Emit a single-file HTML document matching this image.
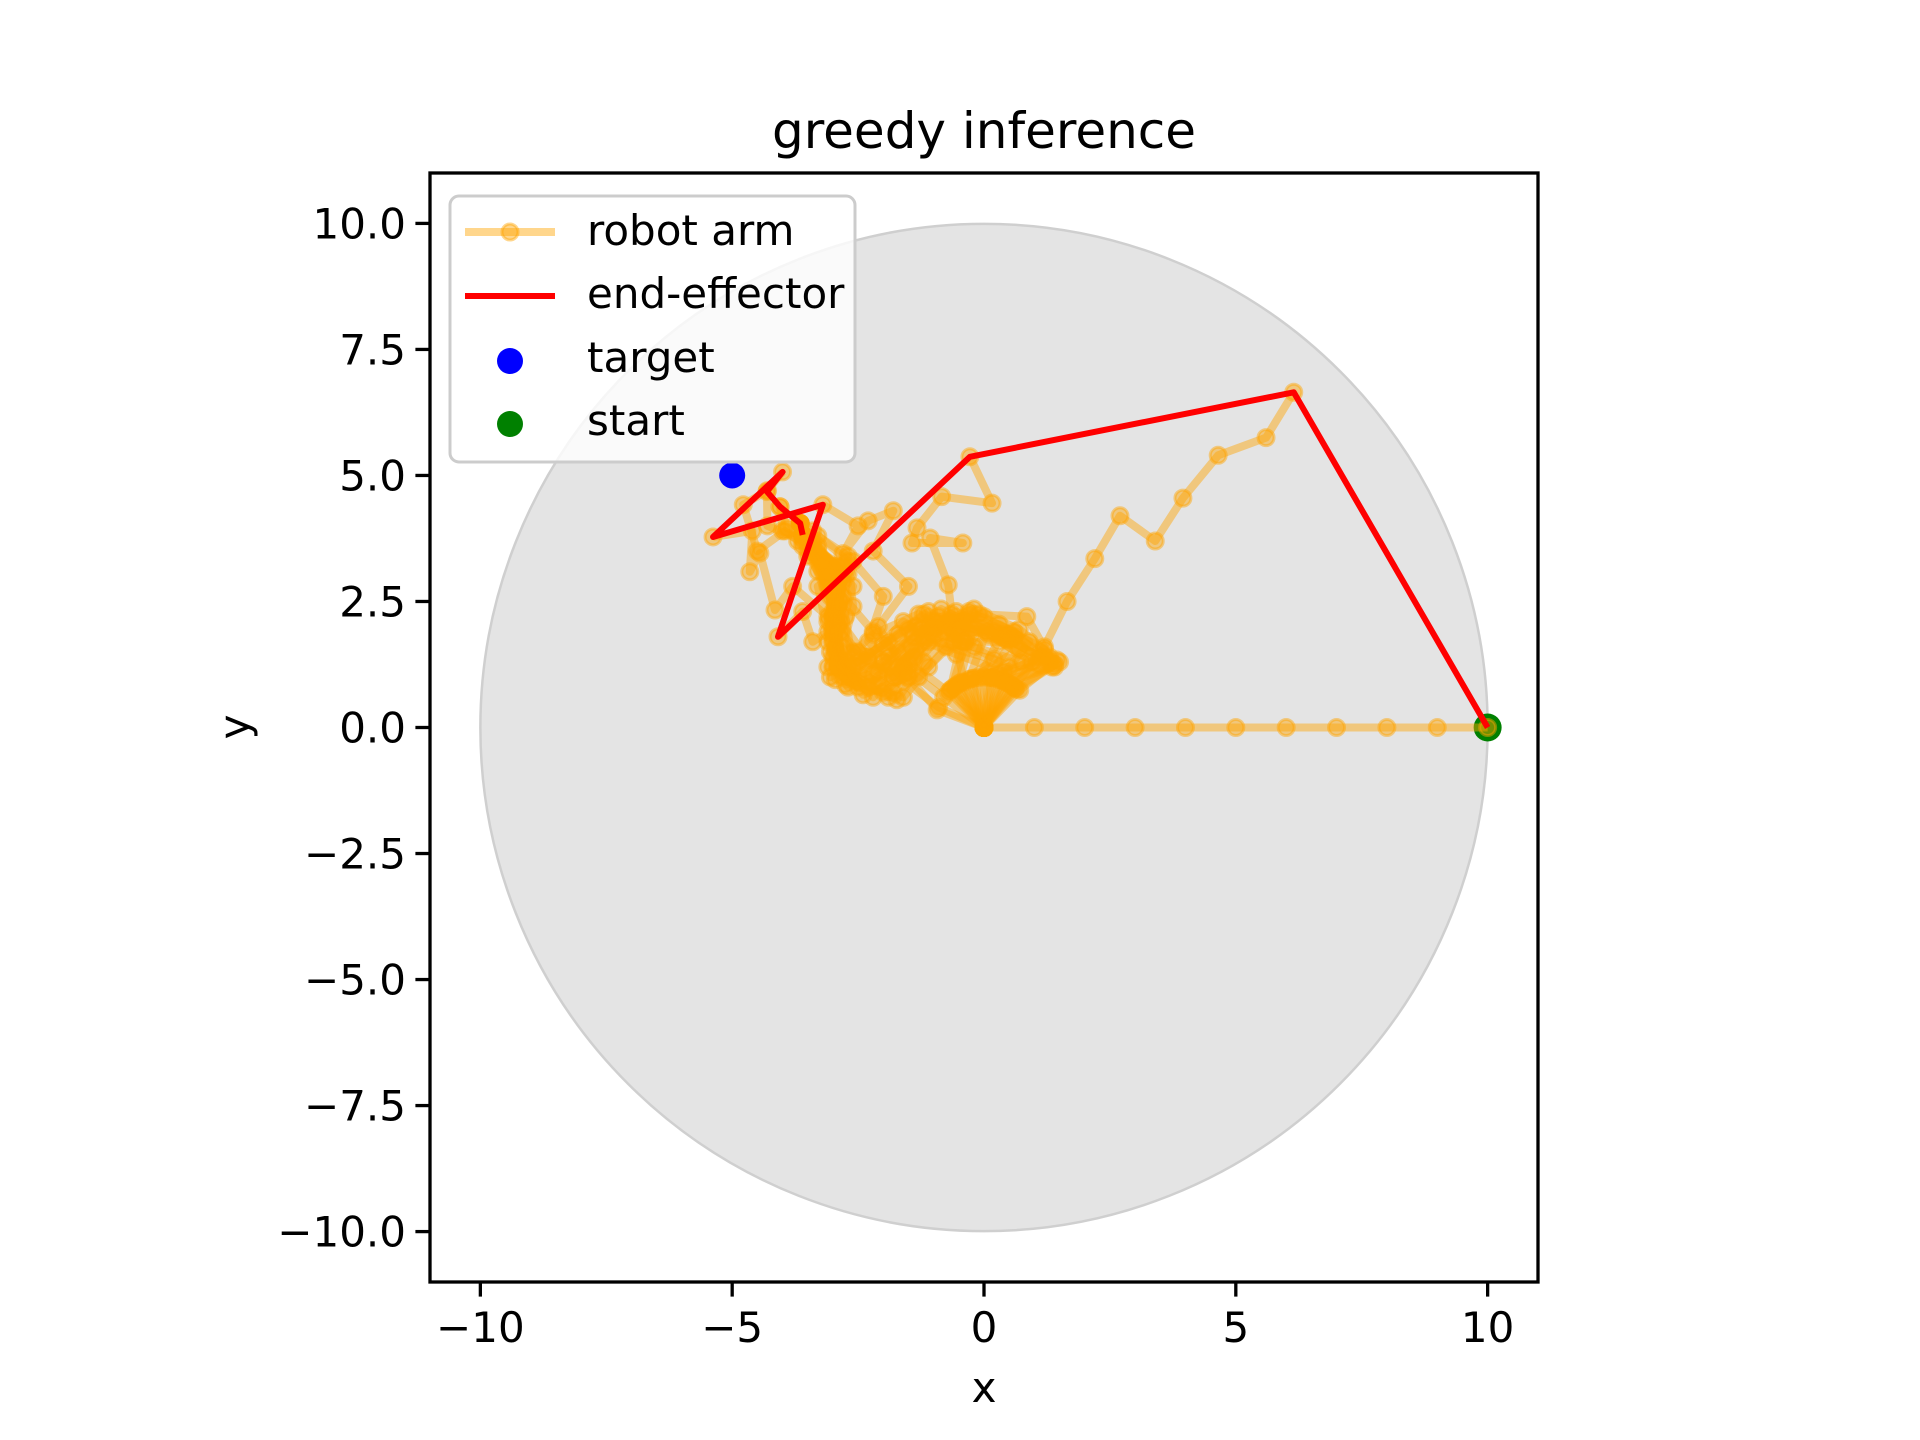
<!DOCTYPE html>
<html><head><meta charset="utf-8"><style>
html,body{margin:0;padding:0;background:#fff;}
svg{display:block;font-family:"DejaVu Sans","Liberation Sans",sans-serif;}
</style></head><body>
<svg id="chart" width="1920" height="1440" viewBox="0 0 1920 1440">
<rect width="1920" height="1440" fill="#fff"/>
<g id="plot"></g>
<text x="984" y="148" text-anchor="middle" font-size="50">greedy inference</text>
<text x="984" y="1402" text-anchor="middle" font-size="42">x</text>
<text x="0" y="0" transform="translate(249,727) rotate(-90)" text-anchor="middle" font-size="42">y</text>
<g id="ticks"></g>
<rect x="430" y="173" width="1108" height="1109" fill="none" stroke="#000" stroke-width="3.3"/>
<g>
<rect x="450" y="196" width="405" height="266" rx="9" fill="#fff" fill-opacity="0.8" stroke="#ccc" stroke-width="3"/>
<g>
<line x1="465" y1="232" x2="555" y2="232" stroke="orange" stroke-opacity="0.45" stroke-width="8"/>
<circle cx="510" cy="232" r="8" fill="orange" fill-opacity="0.45" stroke="orange" stroke-opacity="0.45" stroke-width="3"/>
<text x="587" y="245" font-size="42">robot arm</text></g>
<g>
<line x1="465" y1="296" x2="555" y2="296" stroke="red" stroke-width="6"/>
<text x="587" y="308" font-size="42">end-effector</text></g>
<g>
<circle cx="510" cy="361" r="13" fill="blue"/>
<text x="587" y="372" font-size="42">target</text></g>
<g>
<circle cx="510" cy="424" r="13" fill="green"/>
<text x="587" y="435" font-size="42">start</text></g>
</g>
</svg>
<script>
const xTicks=[-10,-5,0,5,10];
const yTicks=[-10,-7.5,-5,-2.5,0,2.5,5,7.5,10];
const yTickLabels=["\u221210.0","\u22127.5","\u22125.0","\u22122.5","0.0","2.5","5.0","7.5","10.0"];
const xTickLabels=["\u221210","\u22125","0","5","10"];
const workspaceRadius=[10];
const targetPoint=[-5,5];
const startPoint=[10,0];
const efX=[10,6.15,-0.28,-4.09,-3.2,-5.38,-4.0,-4.31,-4.05,-3.65,-3.6];
const efY=[0,6.65,5.37,1.8,4.42,3.78,5.07,4.68,4.38,4.05,3.82];
const armConfigs=[
[[0,0],[1,0],[2,0],[3,0],[4,0],[5,0],[6,0],[7,0],[8,0],[9,0],[10,0]],
[[0,0],[0.6,0.8],[1.2,1.6],[1.65,2.5],[2.2,3.35],[2.7,4.2],[3.4,3.7],[3.95,4.55],[4.65,5.4],[5.6,5.75],[6.15,6.65]],
[[0,0],[-0.4,0.9],[-0.6,1.9],[-0.71,2.83],[-1.07,3.76],[-0.42,3.66],[-1.43,3.66],[-1.33,3.96],[-0.84,4.58],[0.16,4.45],[-0.28,5.37]],
[[0,0],[-0.93,0.35],[-1.6,1.1],[-2.3,1.7],[-2.0,2.6],[-2.6,3.3],[-3.3,2.8],[-3.1,1.9],[-3.4,1.7],[-3.6,2.3],[-4.09,1.8]],
[[0,0],[-0.8,0.6],[-1.6,1.2],[-2.1,2.0],[-1.5,2.8],[-2.2,3.5],[-1.8,4.3],[-2.3,4.1],[-2.8,3.45],[-2.5,4.0],[-3.2,4.42]],
[[0,0],[-0.9,0.4],[-1.7,1.0],[-2.5,1.5],[-3.1,2.2],[-3.8,2.8],[-4.15,2.33],[-4.45,3.46],[-4.65,3.09],[-4.6,3.9],[-5.38,3.78]],
[[0,0],[-0.7,0.7],[-1.5,1.3],[-2.2,1.9],[-2.8,2.6],[-3.3,3.4],[-3.95,3.9],[-4.5,3.5],[-4.78,4.42],[-4.3,4.7],[-4.0,5.07]],
[[0,0],[-0.67,0.74],[-0.45,1.72],[-1.3,2.25],[-2.2,1.85],[-2.9,1.2],[-3.0,2.2],[-2.8,3.2],[-3.6,3.7],[-4.3,4.0],[-4.31,4.68]],
[[0,0],[-0.5,0.87],[-0.25,1.83],[-1.1,2.3],[-1.9,1.7],[-2.7,1.2],[-3.1,2.1],[-2.9,3.1],[-3.5,3.7],[-4.0,3.9],[-4.05,4.38]],
[[0,0],[-0.3,0.95],[0.05,1.9],[-0.85,2.35],[-1.7,1.85],[-2.5,1.3],[-2.95,2.15],[-2.75,3.1],[-3.4,3.6],[-3.7,3.7],[-3.65,4.05]],
[[0,0],[-0.1,0.99],[0.35,1.85],[-0.55,2.3],[-1.5,1.95],[-2.3,1.35],[-2.85,2.1],[-2.7,3.05],[-3.3,3.5],[-3.6,3.6],[-3.6,3.82]],
[[0,0],[0.1,0.99],[0.6,1.8],[-0.3,2.25],[-1.25,1.95],[-2.0,1.3],[-2.8,1.0],[-2.9,2.0],[-2.9,3.0],[-3.5,3.5],[-3.6,3.82]],
[[0,0],[0.3,0.95],[0.9,1.7],[0.0,2.2],[-1.0,2.0],[-1.6,1.2],[-2.5,0.9],[-3.0,1.7],[-3.05,2.7],[-3.5,3.4],[-3.65,4.05]],
[[0,0],[0.5,0.87],[1.2,1.55],[0.3,2.05],[-0.7,2.1],[-1.4,1.4],[-1.9,0.6],[-2.8,1.1],[-3.0,2.0],[-3.1,3.0],[-3.6,3.82]],
[[0,0],[0.71,0.74],[1.45,1.34],[0.5,1.85],[-0.5,2.0],[-1.2,1.3],[-1.73,0.55],[-2.6,0.95],[-3.0,1.8],[-3.1,2.8],[-3.6,3.82]],
[[0,0],[0.62,0.78],[1.4,1.25],[0.45,1.75],[-0.45,1.95],[-1.1,1.2],[-1.6,0.6],[-2.5,0.8],[-2.95,1.6],[-3.05,2.6],[-3.6,3.82]],
[[0,0],[0.2,0.98],[1.1,1.4],[0.2,1.9],[-0.8,1.9],[-1.5,1.1],[-2.0,0.7],[-2.9,1.2],[-3.0,2.2],[-3.0,3.2],[-3.65,4.05]],
[[0,0],[-0.2,0.98],[0.75,1.3],[-0.2,1.6],[-1.1,1.7],[-1.8,1.0],[-2.6,1.5],[-3.1,1.2],[-2.9,2.2],[-3.3,3.1],[-3.6,3.82]],
[[0,0],[-0.55,0.83],[0.4,1.1],[-0.55,1.45],[-1.4,1.8],[-2.1,1.1],[-2.95,1.5],[-2.9,2.4],[-2.7,3.3],[-3.4,3.9],[-3.65,4.05]],
[[0,0],[0.4,0.92],[1.35,1.2],[0.6,1.9],[-0.3,2.3],[-1.2,1.8],[-1.8,1.0],[-2.7,0.8],[-3.05,1.5],[-2.85,2.5],[-3.6,3.82]],
[[0,0],[0.65,0.76],[1.5,1.3],[0.7,1.95],[-0.2,2.35],[-1.1,2.0],[-1.7,1.2],[-2.2,0.6],[-2.9,1.3],[-3.0,2.3],[-3.6,3.82]],
[[0,0],[0.55,0.83],[1.3,1.4],[0.85,2.2],[-0.1,2.25],[-1.0,1.85],[-1.5,1.0],[-2.4,0.65],[-3.0,1.4],[-2.95,2.4],[-3.65,4.05]],
[[0,0],[-0.6,0.8],[0.2,1.35],[-0.75,1.6],[-1.6,2.1],[-2.3,1.4],[-3.05,1.0],[-2.85,1.9],[-2.6,2.8],[-3.3,3.6],[-3.6,3.82]],
[[0,0],[-0.45,0.9],[0.5,1.2],[-0.4,1.7],[-1.35,2.0],[-2.0,1.3],[-2.75,0.85],[-3.0,1.9],[-2.8,2.9],[-3.4,3.7],[-3.65,4.05]],
[[0,0],[0.0,1.0],[0.95,1.3],[0.1,1.85],[-0.9,2.2],[-1.7,1.5],[-2.3,0.8],[-3.0,1.2],[-2.95,2.15],[-3.1,3.1],[-3.6,3.82]],
[[0,0],[0.35,0.94],[1.25,1.35],[0.35,1.8],[-0.65,2.25],[-1.45,1.6],[-2.1,0.85],[-2.85,1.5],[-2.95,2.5],[-3.2,3.3],[-3.65,4.05]],
[[0,0],[-0.25,0.97],[0.7,1.55],[-0.25,1.95],[-1.2,2.25],[-2.0,1.65],[-2.65,1.0],[-3.1,1.7],[-2.9,2.7],[-3.45,3.5],[-3.6,3.82]],
[[0,0],[0.15,0.99],[1.1,1.25],[0.3,1.7],[-0.6,1.7],[-1.3,1.0],[-1.8,0.7],[-2.6,1.2],[-2.75,2.2],[-2.9,3.2],[-3.6,3.82]],
[[0,0],[-0.65,0.76],[-0.35,1.7],[-1.0,2.1],[-1.9,1.4],[-2.8,1.6],[-2.6,2.4],[-2.7,3.4],[-3.3,3.8],[-3.9,3.95],[-4.05,4.38]],
[[0,0],[0.45,0.89],[1.4,1.2],[0.55,1.75],[-0.4,2.1],[-1.35,1.5],[-2.2,1.05],[-2.95,0.95],[-3.0,1.9],[-2.9,2.85],[-3.65,4.05]]
];
const X0=430,X1=1538,Y0=173,Y1=1282,XMIN=-11,XMAX=11,YMIN=-11,YMAX=11;
function sx(v){return X0+(v-XMIN)/(XMAX-XMIN)*(X1-X0);}
function sy(v){return Y1-(v-YMIN)/(YMAX-YMIN)*(Y1-Y0);}
const NS="http://www.w3.org/2000/svg";
const plot=document.getElementById('plot');
const ticks=document.getElementById('ticks');
function mk(tag,attrs,parent){const e=document.createElementNS(NS,tag);for(const k in attrs)e.setAttribute(k,attrs[k]);parent.appendChild(e);return e;}
const ws=mk('circle',{cx:sx(0),cy:sy(0),r:sx(workspaceRadius[0])-sx(0),fill:'#e4e4e4',stroke:'#cfcfcf','stroke-width':2.5},plot);


const st=mk('circle',{cx:sx(startPoint[0]),cy:sy(startPoint[1]),r:14,fill:'green'},plot);


armConfigs.forEach((cfg,i)=>{
  const g=mk('g',{},plot);
  
  
  mk('polyline',{points:cfg.map(p=>sx(p[0])+','+sy(p[1])).join(' '),fill:'none',stroke:'orange','stroke-opacity':0.45,'stroke-width':8,'stroke-linejoin':'round'},g);
  cfg.forEach(p=>{mk('circle',{cx:sx(p[0]),cy:sy(p[1]),r:8,fill:'orange','fill-opacity':0.45,stroke:'orange','stroke-opacity':0.45,'stroke-width':3},g);});
});
const ef=mk('polyline',{points:efX.map((v,i)=>sx(v)+','+sy(efY[i])).join(' '),fill:'none',stroke:'red','stroke-width':6,'stroke-linejoin':'round'},plot);


const tg=mk('circle',{cx:sx(targetPoint[0]),cy:sy(targetPoint[1]),r:13,fill:'blue'},plot);


xTicks.forEach((v,i)=>{
  const l=mk('line',{x1:sx(v),x2:sx(v),y1:Y1,y2:Y1+14.6,stroke:'#000','stroke-width':3.3},ticks);
  
  
  const t=mk('text',{x:sx(v),y:Y1+60,'text-anchor':'middle','font-size':42},ticks);
  t.textContent=xTickLabels[i];
  
  
});
yTicks.forEach((v,i)=>{
  const l=mk('line',{x1:X0-14.6,x2:X0,y1:sy(v),y2:sy(v),stroke:'#000','stroke-width':3.3},ticks);
  
  
  const t=mk('text',{x:X0-24,y:sy(v)+15,'text-anchor':'end','font-size':42},ticks);
  t.textContent=yTickLabels[i];
  
  
});
</script>
</body></html>
